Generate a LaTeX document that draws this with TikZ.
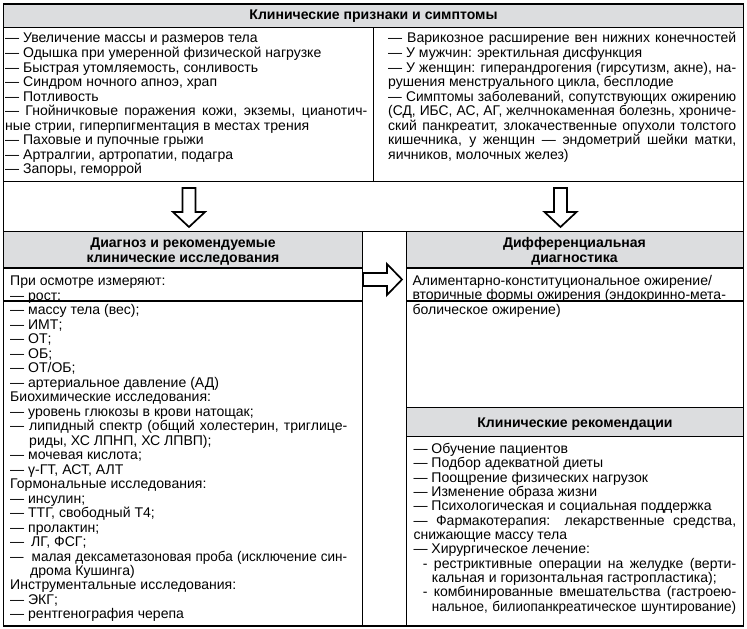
\documentclass[tikz,border=0pt]{standalone}
\usepackage{fontspec}
\setmainfont{Liberation Sans}
\definecolor{hdgray}{RGB}{220,221,223}
\newsavebox\jbox
\newcommand\jl[2]{\setbox\jbox\hbox{#2}%
  \ifdim\wd\jbox>#1\relax
    \pgfmathsetmacro\jr{0.995*(#1)/(\the\wd\jbox)}%
    \hbox to #1{\addfontfeature{FakeStretch=\jr}#2}%
  \else\hbox to #1{#2}\fi}
\newcommand\fs{\fontsize{14.1}{14.5}\selectfont}
\begin{document}
\begin{tikzpicture}[x=1bp,y=-1bp,
  ln/.style={line width=1.1bp},
  txt/.style={anchor=base west, inner sep=0pt, font=\fs},
  hd/.style={anchor=base, inner sep=0pt, font=\fs\bfseries},
  blockarrow/.style={draw=black, line width=1.7bp, fill=white, line join=miter}]
\useasboundingbox (0,0) rectangle (747,629);
% gray header bands
\fill[hdgray] (3.5,4) rectangle (743.5,27.5);
\fill[hdgray] (3.5,231.7) rectangle (362.7,268);
\fill[hdgray] (406.7,231.7) rectangle (743.5,268);
\fill[hdgray] (406.7,407.3) rectangle (743.5,436.7);
% grid lines
\draw[ln] (3.5,4) rectangle (743.5,626);
\draw[ln] (3.5,27.5) -- (743.5,27.5);
\draw[ln] (373.5,27.5) -- (373.5,181.5);
\draw[ln] (3.5,181.5) -- (743.5,181.5);
\draw[ln] (3.5,231.7) -- (743.5,231.7);
\draw[ln] (362.7,231.7) -- (362.7,626);
\draw[ln] (406.7,231.7) -- (406.7,626);
\draw[ln] (3.5,268) -- (362.7,268);
\draw[ln] (406.7,268) -- (743.5,268);
\draw[ln] (3.5,301) -- (362.7,301);
\draw[ln] (406.7,301) -- (743.5,301);
\draw[ln] (406.7,407.3) -- (743.5,407.3);
\draw[ln] (406.7,436.7) -- (743.5,436.7);
% block arrows
\draw[blockarrow] (182.5,188) -- (195.5,188) -- (195.5,212) -- (205,212) -- (189,227) -- (173,212) -- (182.5,212) -- cycle;
\draw[blockarrow] (554,188) -- (567,188) -- (567,212) -- (576.5,212) -- (560.5,227) -- (544.5,212) -- (554,212) -- cycle;
\draw[blockarrow] (363,273) -- (387,273) -- (387,264) -- (402,279.5) -- (387,295) -- (387,286) -- (363,286) -- cycle;
% headers
\node[hd] (h1) at (373.5,19.5) {Клинические признаки и симптомы};
\node[hd] (h2a) at (183,247) {Диагноз и рекомендуемые};
\node[hd] (h2b) at (183,262.5) {клинические исследования};
\node[hd] (h3a) at (574.5,247.5) {Дифференциальная};
\node[hd] (h3b) at (574.5,262.5) {диагностика};
\node[hd] (h4) at (575,427) {Клинические рекомендации};
% top left
\foreach \t [count=\i] in {
 {— Увеличение массы и размеров тела},
 {— Одышка при умеренной физической нагрузке},
 {— Быстрая утомляемость, сонливость},
 {— Синдром ночного апноэ, храп},
 {— Потливость},
 {\jl{362bp}{— Гнойничковые поражения кожи, экземы, цианотич-}},
 {ные стрии, гиперпигментация в местах трения},
 {— Паховые и пупочные грыжи},
 {— Артралгии, артропатии, подагра},
 {— Запоры, геморрой}}
 \node[txt] (tl\i) at (5,{43+14.55*(\i-1)}) {\t};
% top right
\foreach \t [count=\i] in {
 {\jl{348bp}{— Варикозное расширение вен нижних конечностей}},
 {— У мужчин: эректильная дисфункция},
 {\jl{348bp}{— У женщин: гиперандрогения (гирсутизм, акне), на-}},
 {рушения менструального цикла, бесплодие},
 {\jl{348bp}{— Симптомы заболеваний, сопутствующих ожирению}},
 {\jl{348bp}{(СД, ИБС, АС, АГ, желчнокаменная болезнь, хрониче-}},
 {\jl{348bp}{ский панкреатит, злокачественные опухоли толстого}},
 {\jl{348bp}{кишечника, у женщин — эндометрий шейки матки,}},
 {яичников, молочных желез)}}
 \node[txt] (tr\i) at (388,{43+14.55*(\i-1)}) {\t};
% left box
\foreach \t [count=\i] in {
 {При осмотре измеряют:},
 {— рост;},
 {— массу тела (вес);},
 {— ИМТ;},
 {— ОТ;},
 {— ОБ;},
 {— ОТ/ОБ;},
 {— артериальное давление (АД)},
 {Биохимические исследования:},
 {— уровень глюкозы в крови натощак;},
 {\jl{337bp}{— липидный спектр (общий холестерин, триглице-}},
 {\hspace{19bp}риды, ХС ЛПНП, ХС ЛПВП);},
 {— мочевая кислота;},
 {— γ-ГТ, АСТ, АЛТ},
 {Гормональные исследования:},
 {— инсулин;},
 {— ТТГ, свободный Т4;},
 {— пролактин;},
 {—\hspace{7bp}ЛГ, ФСГ;},
 {\jl{337bp}{—\hspace{8bp}малая дексаметазоновая проба (исключение син-}},
 {\hspace{20bp}дрома Кушинга)},
 {Инструментальные исследования:},
 {— ЭКГ;},
 {— рентгенография черепа}}
 \node[txt] (lb\i) at (10,{285.7+14.49*(\i-1)}) {\t};
% differential diagnosis
\foreach \t [count=\i] in {
 {Алиментарно-конституциональное ожирение/},
 {вторичные формы ожирения (эндокринно-мета-},
 {болическое ожирение)}}
 \node[txt] (dd\i) at (412.3,{285+14.5*(\i-1)}) {\t};
% recommendations
\foreach \t [count=\i] in {
 {— Обучение пациентов},
 {— Подбор адекватной диеты},
 {— Поощрение физических нагрузок},
 {— Изменение образа жизни},
 {— Психологическая и социальная поддержка},
 {\jl{322.7bp}{— Фармакотерапия: лекарственные средства,}},
 {снижающие массу тела},
 {— Хирургическое лечение:},
 {\hspace{9.4bp}\jl{313.3bp}{- рестриктивные операции на желудке (верти-}},
 {\hspace{18.4bp}кальная и горизонтальная гастропластика);},
 {\hspace{9.4bp}\jl{313.3bp}{- комбинированные вмешательства (гастроею-}},
 {\hspace{18.4bp}\jl{304.3bp}{нальное, билиопанкреатическое шунтирование)}}}
 \node[txt] (rc\i) at (413.3,{453.3+14.36*(\i-1)}) {\t};
\end{tikzpicture}
\end{document}
